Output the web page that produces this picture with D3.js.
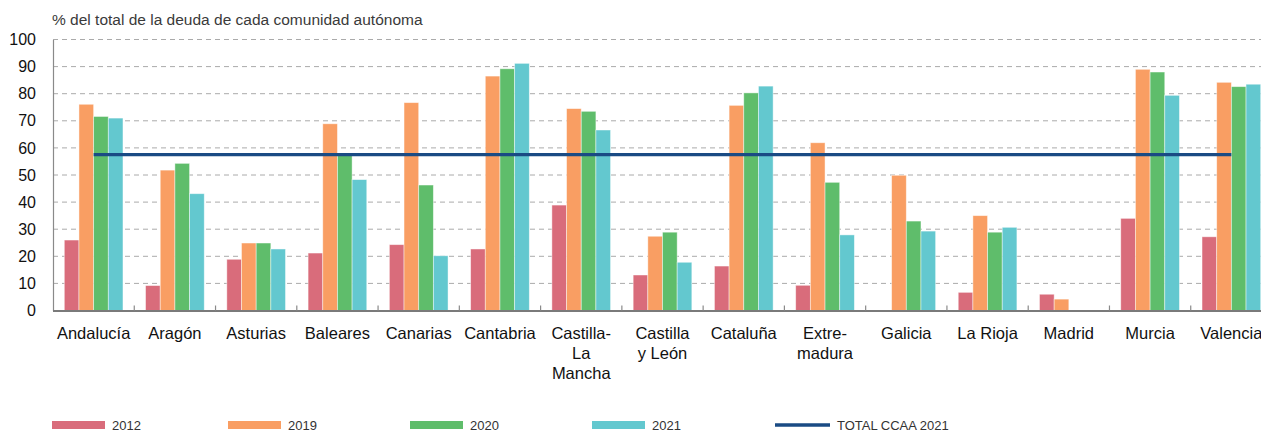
<!DOCTYPE html>
<html><head><meta charset="utf-8">
<script src="https://cdn.jsdelivr.net/npm/d3@7"></script>
<style>
html,body{margin:0;padding:0;background:#fff;}
svg{display:block;font-family:"Liberation Sans",Arial,Helvetica,sans-serif;}
</style></head>
<body>
<svg id="c" width="1261" height="432"></svg>
<script>
const categories = ["Andalucía","Aragón","Asturias","Baleares","Canarias","Cantabria","Castilla-La Mancha","Castilla y León","Cataluña","Extremadura","Galicia","La Rioja","Madrid","Murcia","Valencia"];
const categoryLabels = [["Andalucía"],["Aragón"],["Asturias"],["Baleares"],["Canarias"],["Cantabria"],["Castilla-","La","Mancha"],["Castilla","y León"],["Cataluña"],["Extre-","madura"],["Galicia"],["La Rioja"],["Madrid"],["Murcia"],["Valencia"]];
const years = ["2012","2019","2020","2021"];
const v2012 = [26.0, 9.2, 18.9, 21.2, 24.3, 22.7, 38.9, 13.1, 16.4, 9.3, 0, 6.7, 6.0, 34.0, 27.2];
const v2019 = [76.1, 51.8, 24.9, 68.9, 76.7, 86.5, 74.5, 27.4, 75.7, 61.9, 49.9, 35.0, 4.2, 89.0, 84.2];
const v2020 = [71.6, 54.3, 24.9, 57.8, 46.3, 89.2, 73.5, 28.9, 80.3, 47.3, 33.0, 28.9, 0, 88.0, 82.6];
const v2021 = [71.0, 43.1, 22.7, 48.3, 20.2, 91.2, 66.6, 17.8, 82.8, 27.9, 29.3, 30.7, 0, 79.4, 83.5];
const totalCCAA2021 = 57.5;
const yTicks = [0,10,20,30,40,50,60,70,80,90,100];
const title = "% del total de la deuda de cada comunidad autónoma";
const totalLabel = "TOTAL CCAA 2021";

(function(){
const series = [v2012, v2019, v2020, v2021];
const colors = ["#d96c7b", "#f99e63", "#5fbd6b", "#63c8cf"];
const lineColor = "#1a4b84";

const svg = d3.select("#c");
const mLeft = 53, mRight = 1272, mTop = 39.5, mBottom = 310.5;

const x0 = d3.scaleBand().domain(categories).range([mLeft, mRight]).paddingInner(0).paddingOuter(0);
const x1 = d3.scaleBand().domain(years).range([0, x0.bandwidth()]).paddingInner(0).paddingOuter(0.77);
const y = d3.scaleLinear().domain([0, 100]).range([mBottom, mTop]);

svg.append("text").attr("x", 52).attr("y", 25).attr("font-size", 15.5).attr("fill", "#3a3a3a").text(title);

svg.append("g").selectAll("line").data(yTicks.filter(d => d > 0)).join("line")
  .attr("x1", mLeft).attr("x2", 1261)
  .attr("y1", d => y(d)).attr("y2", d => y(d))
  .attr("stroke", "#aaaaaa").attr("stroke-width", 1).attr("stroke-dasharray", "5,4");

const yAxis = d3.axisLeft(y).tickValues(yTicks).tickSize(0).tickPadding(17);
const gy = svg.append("g").attr("transform", `translate(${mLeft},0)`).call(yAxis);
gy.select(".domain").attr("stroke", "#8a8a8a").attr("stroke-width", 1.2);
gy.selectAll("text").attr("font-size", 16).attr("fill", "#111").attr("font-family", "Liberation Sans, Arial, sans-serif");

years.forEach((yr, i) => {
  svg.append("g").selectAll("rect").data(categories.map((c, j) => ({c, v: series[i][j]})).filter(d => d.v > 0)).join("rect")
    .attr("x", d => x0(d.c) + x1(yr))
    .attr("width", x1.bandwidth())
    .attr("y", d => y(d.v))
    .attr("height", d => y(0) - y(d.v))
    .attr("fill", colors[i])
    .attr("stroke", "rgba(255,255,255,0.55)").attr("stroke-width", 0.8);
});

svg.append("line").attr("x1", mLeft).attr("x2", 1261).attr("y1", mBottom + 0.5).attr("y2", mBottom + 0.5)
  .attr("stroke", "#7a7a7a").attr("stroke-width", 2);
svg.append("g").selectAll("line").data(categories.slice(1)).join("line")
  .attr("x1", d => x0(d)).attr("x2", d => x0(d))
  .attr("y1", mBottom - 5).attr("y2", mBottom)
  .attr("stroke", "#8a8a8a").attr("stroke-width", 1.2);

const lbl = svg.append("g").selectAll("text").data(categories).join("text")
  .attr("x", d => x0(d) + x0.bandwidth() / 2)
  .attr("y", 339)
  .attr("text-anchor", "middle").attr("font-size", 16.5).attr("fill", "#111");
lbl.each(function(d, i) {
  const t = d3.select(this);
  categoryLabels[i].forEach((s, k) => {
    t.append("tspan").attr("x", x0(d) + x0.bandwidth() / 2).attr("dy", k === 0 ? 0 : 20).text(s);
  });
});

svg.append("line")
  .attr("x1", x0(categories[0]) + x0.bandwidth() / 2)
  .attr("x2", x0(categories[categories.length - 1]) + x0.bandwidth() / 2)
  .attr("y1", y(totalCCAA2021)).attr("y2", y(totalCCAA2021))
  .attr("stroke", lineColor).attr("stroke-width", 3.2);

const legX = [52, 228, 410, 592];
years.forEach((yr, i) => {
  svg.append("rect").attr("x", legX[i]).attr("y", 421).attr("width", 53).attr("height", 8).attr("fill", colors[i]);
  svg.append("text").attr("x", legX[i] + 60).attr("y", 430).attr("font-size", 13).attr("fill", "#333").text(yr);
});
svg.append("line").attr("x1", 775).attr("x2", 830).attr("y1", 425).attr("y2", 425).attr("stroke", lineColor).attr("stroke-width", 3.5);
svg.append("text").attr("x", 837).attr("y", 430).attr("font-size", 13).attr("fill", "#333").text(totalLabel);
})();
</script>
</body></html>
